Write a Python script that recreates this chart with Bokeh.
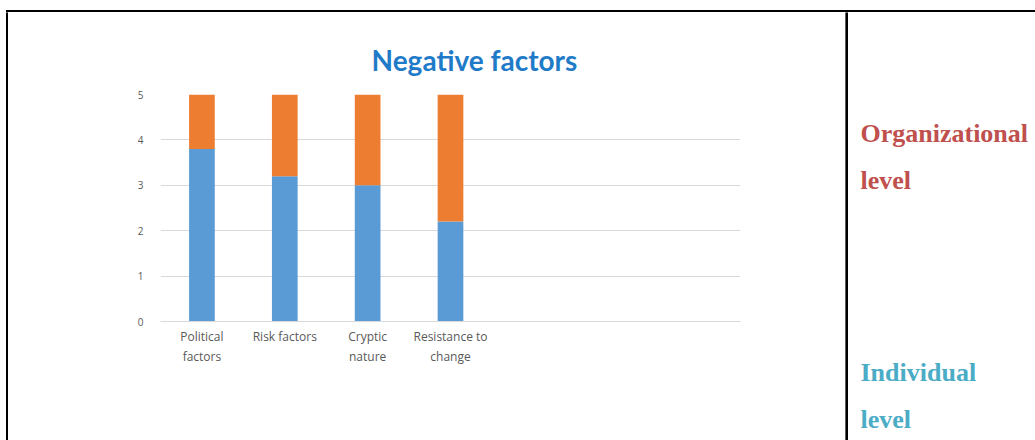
from bokeh.plotting import figure
from bokeh.layouts import row, column
from bokeh.models import Range1d, FixedTicker, Title, Div
from bokeh.core.properties import value
from bokeh.embed import file_html
from bokeh.resources import INLINE

# ---- data ----
categories = ["Political\nfactors", "Risk factors", "Cryptic\nnature", "Resistance to\nchange"]
blue_vals = [3.8, 3.2, 3.0, 2.2]
orange_vals = [1.2, 1.8, 2.0, 2.8]
n_slots = 7
y_ticks = [0, 1, 2, 3, 4, 5]
title_text = "Negative factors"
side_top = ["Organizational", "level"]
side_bottom = ["Individual", "level"]

BLUE = "#5B9BD5"
ORANGE = "#ED7D31"
GRID = "#D9D9D9"
LABEL = "#595959"


def blank(w, h):
    f = figure(width=w, height=h, output_backend="svg", toolbar_location=None,
               x_axis_type=None, y_axis_type=None, min_border=0,
               x_range=Range1d(0, w), y_range=Range1d(h, 0))
    f.outline_line_color = None
    f.background_fill_color = "white"
    f.border_fill_color = "white"
    return f


# top border line (full width)
top_line = Div(text="", width=1029, height=2, margin=(10, 0, 0, 6),
               styles={"background-color": "black", "overflow": "hidden"})

# left border strip
fl = blank(8, 428)
fl.quad(left=[6], right=[8], top=[0], bottom=[428], color="black")

# chart
xs = [i + 0.5 for i in range(len(categories))]
p = figure(width=837, height=428, output_backend="svg", toolbar_location=None,
           x_range=Range1d(0, n_slots), y_range=Range1d(0, 5),
           min_border_left=152, min_border_right=105, min_border_top=82,
           min_border_bottom=119)
p.outline_line_color = None
p.background_fill_color = "white"
p.border_fill_color = "white"

src = dict(x=xs, blue=blue_vals, orange=orange_vals)
p.vbar_stack(["blue", "orange"], x="x", width=0.31, color=[BLUE, ORANGE],
             line_color=None, source=src)

p.xgrid.visible = False
p.ygrid.grid_line_color = GRID
p.ygrid.ticker = FixedTicker(ticks=y_ticks)

p.yaxis.ticker = FixedTicker(ticks=y_ticks)
p.yaxis.axis_line_color = None
p.yaxis.major_tick_line_color = None
p.yaxis.minor_tick_line_color = None
p.yaxis.major_label_text_font = "Open Sans"
p.yaxis.major_label_text_font_size = "10px"
p.yaxis.major_label_text_color = LABEL
p.yaxis.major_label_standoff = 11

p.xaxis.ticker = FixedTicker(ticks=xs)
p.xaxis.major_label_overrides = {x: c for x, c in zip(xs, categories)}
p.xaxis.axis_line_color = GRID
p.xaxis.major_tick_line_color = None
p.xaxis.minor_tick_line_color = None
p.xaxis.major_label_text_font = "Open Sans"
p.xaxis.major_label_text_font_size = "12px"
p.xaxis.major_label_text_color = LABEL
p.xaxis.major_label_standoff = 0

t = Title(text=title_text, align="left", offset=211, standoff=35,
          text_font="Lato", text_font_size="28px", text_font_style="bold",
          text_color="#1F7BC8")
p.add_layout(t, "above")

# right panel
fr = blank(190, 428)
fr.quad(left=[0], right=[2], top=[0], bottom=[428], color="black")
fr.text(x=[15, 15], y=[121, 168], text=side_top, text_font=value("Liberation Serif"),
        text_font_style="bold", text_font_size="26px", text_color="#C0504D",
        text_baseline="alphabetic")
fr.text(x=[15, 15], y=[360, 407], text=side_bottom, text_font=value("Liberation Serif"),
        text_font_style="bold", text_font_size="26px", text_color="#4BACC6",
        text_baseline="alphabetic")

layout = column(top_line, row(fl, column(p, spacing=0), fr, spacing=0), spacing=0)

open("out.html", "w").write(file_html(layout, INLINE))
